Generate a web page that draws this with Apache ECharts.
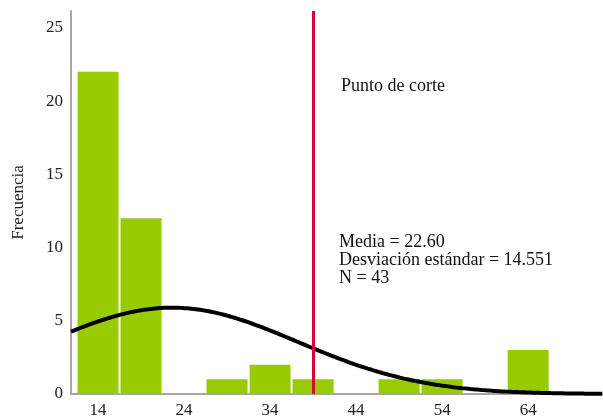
<!DOCTYPE html>
<html>
<head>
<meta charset="utf-8">
<script src="https://cdn.jsdelivr.net/npm/echarts@6/dist/echarts.min.js"></script>
<style>
  html, body { margin: 0; padding: 0; background: #ffffff; }
  #chart { width: 603px; height: 418px; }
</style>
</head>
<body>
<div id="chart"></div>
<script>
// Histogram bins (centre of each 5-point bin) and their counts
const binCenters = [14, 19, 24, 29, 34, 39, 44, 49, 54, 59, 64];
const binCounts  = [22, 12, 0, 1, 2, 1, 0, 1, 1, 0, 3];
const binWidth = 5;

// Tick labels on the horizontal and vertical axes
const xTicks = [14, 24, 34, 44, 54, 64];
const yTicks = [0, 5, 10, 15, 20, 25];

// Summary statistics shown on the chart
const media = 22.60;
const desviacion = 14.551;
const nTotal = 43;

// Cut-off point
const puntoCorte = 39;

const xMin = 10.86, xMax = 72.7, yMax = 26.15;

// Fitted normal curve scaled to counts (N * bin width * density)
const curve = [];
for (let x = xMin; x <= xMax + 0.001; x += 0.25) {
  const z = (x - media) / desviacion;
  const y = nTotal * binWidth / (desviacion * Math.sqrt(2 * Math.PI)) * Math.exp(-0.5 * z * z);
  curve.push([x, y]);
}

const serif = '"Liberation Serif", "DejaVu Serif", serif';
const chart = echarts.init(document.getElementById('chart'), null, { renderer: 'canvas' });

chart.setOption({
  animation: false,
  backgroundColor: '#ffffff',
  grid: { left: 71, right: 0, top: 11, bottom: 24, containLabel: false, outerBoundsMode: 'none' },
  xAxis: {
    type: 'value',
    min: xMin,
    max: xMax,
    axisLine: { show: true, lineStyle: { color: '#a6a6a6', width: 2 } },
    axisTick: { show: false },
    splitLine: { show: false },
    axisLabel: {
      customValues: xTicks,
      color: '#222',
      fontFamily: serif,
      fontSize: 17,
      margin: 8
    }
  },
  yAxis: {
    type: 'value',
    min: 0,
    max: yMax,
    name: 'Frecuencia',
    nameLocation: 'middle',
    nameGap: 44,
    nameRotate: 90,
    nameTextStyle: { color: '#222', fontFamily: serif, fontSize: 17 },
    axisLine: { show: true, lineStyle: { color: '#a6a6a6', width: 2 } },
    axisTick: { show: false },
    splitLine: { show: false },
    axisLabel: {
      customValues: yTicks,
      color: '#222',
      fontFamily: serif,
      fontSize: 17,
      margin: 8
    }
  },
  series: [
    {
      type: 'custom',
      name: 'Frecuencia',
      z: 2,
      data: binCenters.map((c, i) => [c, binCounts[i]]),
      renderItem: function (params, api) {
        const c = api.value(0), v = api.value(1);
        if (!v) return null;
        const p0 = api.coord([c - binWidth / 2, 0]);
        const p1 = api.coord([c + binWidth / 2, v]);
        return {
          type: 'rect',
          shape: { x: p0[0] + 1, y: p1[1], width: p1[0] - p0[0] - 2, height: p0[1] - p1[1] },
          style: { fill: '#99cc00' }
        };
      }
    },
    {
      type: 'line',
      z: 3,
      data: curve,
      showSymbol: false,
      smooth: false,
      lineStyle: { color: '#000000', width: 4 },
      silent: true
    },
    {
      type: 'line',
      z: 4,
      data: [],
      markLine: {
        silent: true,
        symbol: 'none',
        label: { show: false },
        lineStyle: { color: '#d5083a', width: 3, type: 'solid' },
        data: [{ xAxis: puntoCorte }]
      }
    }
  ],
  graphic: [
    {
      type: 'text',
      left: 341, top: 77,
      style: { text: 'Punto de corte', fill: '#111', font: '18px ' + serif }
    },
    {
      type: 'text',
      left: 339, top: 233,
      style: {
        text: 'Media = ' + media.toFixed(2) + '\nDesviación estándar = ' + desviacion.toFixed(3) + '\nN = ' + nTotal,
        fill: '#111',
        font: '18px ' + serif,
        lineHeight: 18
      }
    }
  ]
});
</script>
</body>
</html>
